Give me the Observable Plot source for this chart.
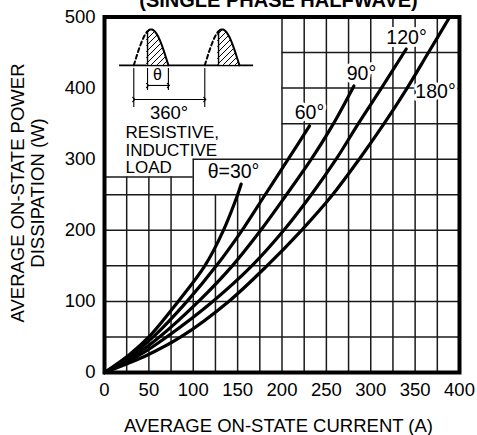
<!DOCTYPE html>
<html><head><meta charset="utf-8">
<script src="https://cdn.jsdelivr.net/npm/d3@7"></script>
<script src="https://cdn.jsdelivr.net/npm/@observablehq/plot@0.6"></script>
<style>
html,body{margin:0;padding:0;background:#fff;}
#chart{width:477px;height:435px;overflow:hidden;}
</style></head><body><div id="chart"></div>
<script>
// ---- tick labels ----
const currentTicks = [0, 50, 100, 150, 200, 250, 300, 350, 400];
const powerTicks = [0, 100, 200, 300, 400, 500];
const gridCurrents = [25, 50, 75, 100, 125, 150, 175, 200, 225, 250, 275, 300, 325, 350, 375];
const gridPowers = [50, 100, 150, 200, 250, 300, 350, 400, 450];

// ---- series (power W, current A) ----
const power30  = [0, 25, 50, 100, 150, 200, 250, 265];
const current30 = [0, 28, 50, 83, 113, 134, 150, 154];
const power60  = [0, 25, 50, 100, 150, 200, 250, 300, 347];
const current60 = [0, 31, 55, 93, 126, 155, 181, 207, 231];
const power90  = [0, 25, 50, 100, 150, 200, 250, 300, 350, 403];
const current90 = [0, 35, 62, 106, 144, 176, 205, 233, 258, 281];
const power120 = [0, 25, 50, 100, 150, 200, 250, 300, 350, 400, 455];
const current120 = [0, 40, 70, 122, 166, 202, 233, 261, 286, 312, 340];
const power180 = [0, 25, 50, 100, 150, 200, 250, 300, 350, 400, 450, 500];
const current180 = [0, 49, 86, 140, 183, 222, 257, 287, 315, 341, 365, 389];

const angleNames = ["30°", "60°", "90°", "120°", "180°"];
const angleLabels = ["60°", "90°", "120°", "180°"];
const angleLabelCurrent = [231, 289.6, 340.3, 373];
const angleLabelPower = [357.2, 410.7, 462.7, 385.4];

const titleText = "(SINGLE PHASE HALFWAVE)";
const xTitle = "AVERAGE ON-STATE CURRENT (A)";
const yTitle = "AVERAGE ON-STATE POWER\nDISSIPATION (W)";

// ---- build tables ----
const seriesList = [[power30, current30], [power60, current60], [power90, current90], [power120, current120], [power180, current180]];
const curveRows = seriesList.flatMap(([p, c], k) => p.map((w, i) => ({angle: angleNames[k], current: c[i], power: w})));
const labelRows = angleLabels.map((t, i) => ({t, a: angleLabelCurrent[i], p: angleLabelPower[i]}));

// grid lines, interrupted by the description box in the upper left
const vRules = gridCurrents.map(a => ({a, top: a < 100 ? 275 : a === 100 ? 300 : a < 200 ? 250 : 500}));
const hRules = gridPowers.map(p => ({p, x1: p <= 250 ? 0 : p === 300 ? 100 : 200, x2: 400}))
  .concat([{p: 275, x1: 0, x2: 100}]);

// inset waveform sketch (in chart units)
const baseW = 432, amp = 50.5, humpWidth = 39, fireOffset = 15.5;
const humpStarts = [33, 113];
const humpPts = [];
humpStarts.forEach((a0, h) => {
  for (let i = 0; i <= 40; i++) {
    const t = i / 40;
    humpPts.push({hump: h, a: a0 + t * humpWidth, w: baseW + amp * Math.sin(Math.PI * t)});
  }
});
const dashPts = humpPts.filter(d => d.a <= humpStarts[d.hump] + fireOffset + 0.01);
const solidPts = humpPts.filter(d => d.a >= humpStarts[d.hump] + fireOffset - 1);
const fireRows = humpStarts.map(a0 => ({a: a0 + fireOffset, w: baseW + amp * Math.sin(Math.PI * fireOffset / humpWidth)}));

const font = "'Liberation Sans', Arial, Helvetica, sans-serif";

const plot = Plot.plot({
  width: 477, height: 435,
  marginLeft: 104, marginRight: 18, marginTop: 16.5, marginBottom: 63,
  style: {fontFamily: font, fontSize: "18.5px", background: "white", color: "black", overflow: "visible"},
  x: {domain: [0, 400], ticks: currentTicks, tickSize: 0, tickPadding: 10, tickFormat: d => String(d), label: null},
  y: {domain: [0, 500], ticks: powerTicks, tickSize: 0, tickPadding: 9, tickFormat: d => String(d), label: null},
  marks: [
    Plot.ruleX(vRules, {x: "a", y1: 0, y2: "top", stroke: "#1a1a1a", strokeWidth: 1.5}),
    Plot.ruleY(hRules, {y: "p", x1: "x1", x2: "x2", stroke: "#1a1a1a", strokeWidth: 1.5}),
    // inset sketch
    Plot.ruleY([baseW], {x1: 17, x2: 168, stroke: "black", strokeWidth: 1.6}),
    Plot.areaY(solidPts, {x: "a", y1: baseW, y2: "w", z: "hump", fill: "url(#hatch)", curve: "linear"}),
    Plot.line(dashPts, {x: "a", y: "w", z: "hump", stroke: "black", strokeWidth: 2, strokeDasharray: "4,3"}),
    Plot.line(solidPts, {x: "a", y: "w", z: "hump", stroke: "black", strokeWidth: 2}),
    Plot.ruleX(fireRows, {x: "a", y1: baseW, y2: "w", stroke: "black", strokeWidth: 1.4}),
    Plot.ruleX([humpStarts[0] + fireOffset, humpStarts[0] + humpWidth], {y1: 427.6, y2: 396.6, stroke: "black", strokeWidth: 1.1}),
    Plot.ruleX([humpStarts[0], humpStarts[1]], {y1: 427.6, y2: 372.7, stroke: "black", strokeWidth: 1.1}),
    Plot.link([{a: humpStarts[0] + fireOffset, b: humpStarts[0] + humpWidth}], {x1: "a", x2: "b", y1: 403.7, y2: 403.7, stroke: "black", strokeWidth: 1.1, markerStart: "arrow", markerEnd: "arrow"}),
    Plot.link([{a: humpStarts[0], b: humpStarts[1]}], {x1: "a", x2: "b", y1: 384, y2: 384, stroke: "black", strokeWidth: 1.1, markerStart: "arrow", markerEnd: "arrow"}),
    Plot.text(["θ"], {x: 59.7, y: 410.7, lineAnchor: "bottom", textAnchor: "middle", fontSize: 16}),
    Plot.text(["360°"], {x: 72.7, y: 357.2, lineAnchor: "bottom", textAnchor: "middle", fontSize: 18.5}),
    Plot.text(["RESISTIVE,\nINDUCTIVE\nLOAD"], {x: 23.7, y: 280, lineAnchor: "bottom", textAnchor: "start", fontSize: 17, lineHeight: 1.03}),
    // curve labels
    Plot.text(labelRows, {x: "a", y: "p", text: "t", lineAnchor: "bottom", textAnchor: "middle", fontSize: 19.5, fill: "black", stroke: "white", strokeWidth: 6, paintOrder: "stroke"}),
    Plot.text(["θ=30°"], {x: 145.4, y: 272.9, lineAnchor: "bottom", textAnchor: "middle", fontSize: 19.5}),
    // curves
    Plot.line(curveRows, {x: "current", y: "power", z: "angle", stroke: "black", strokeWidth: 3.2, curve: "catmull-rom"}),
    Plot.frame({stroke: "black", strokeWidth: 4}),
    // titles
    Plot.text([xTitle], {frameAnchor: "bottom", dx: -3.5, dy: 59, lineAnchor: "bottom", textAnchor: "middle", fontSize: 18.5}),
    Plot.text([yTitle], {frameAnchor: "left", rotate: -90, dx: -77, dy: -1.75, lineAnchor: "middle", textAnchor: "middle", fontSize: 18.5, lineHeight: 1.08}),
    Plot.text([titleText], {frameAnchor: "top", dx: -3.5, dy: -10.5, lineAnchor: "bottom", textAnchor: "middle", fontSize: 20, fontWeight: "bold"})
  ]
});

// hatch pattern for the inset
const defs = d3.select(plot).insert("defs", ":first-child");
const pat = defs.append("pattern").attr("id", "hatch").attr("patternUnits", "userSpaceOnUse")
  .attr("width", 6).attr("height", 6);
pat.append("rect").attr("width", 6).attr("height", 6).attr("fill", "white");
pat.append("path").attr("d", "M-1,7 L7,-1 M-1,1 L1,-1 M5,7 L7,5").attr("stroke", "black").attr("stroke-width", 1);

document.getElementById("chart").appendChild(plot);
</script>
</body></html>
